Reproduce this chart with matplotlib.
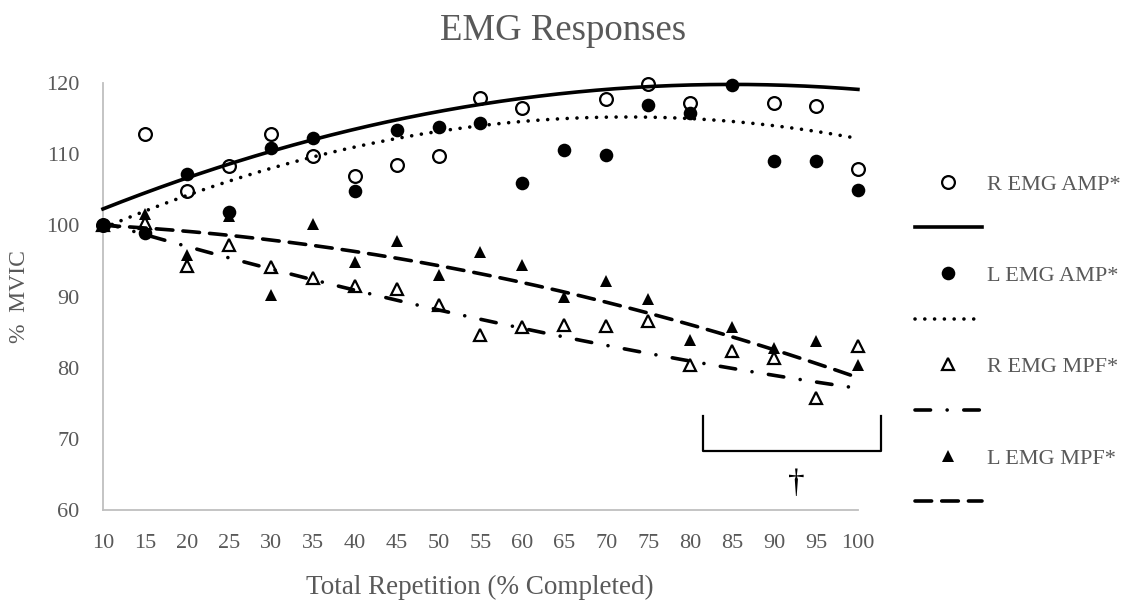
import matplotlib
matplotlib.use("Agg")
import matplotlib.pyplot as plt
import numpy as np
from matplotlib.lines import Line2D

nan = float('nan')

# % completed (categories on the x axis)
reps = [10, 15, 20, 25, 30, 35, 40, 45, 50, 55, 60, 65, 70, 75, 80, 85, 90, 95, 100]

# % MVIC (nan = marker not visible)
r_amp = [100, 112.8, 104.8, 108.3, 112.8, 109.7, 107.0, 108.5, 109.7, 117.9,
         116.5, nan, 117.7, 119.8, 117.2, nan, 117.2, 116.7, 107.9]
l_amp = [100, 98.9, 107.2, 101.9, 110.8, 112.3, 104.8, 113.4, 113.8, 114.4,
         106.0, 110.6, 109.9, 116.9, 115.8, 119.7, 109.1, 109.1, 104.9]
r_mpf = [100, 100.3, 94.3, 97.3, 94.1, 92.6, 91.5, 91.0, 88.8, 84.6,
         85.7, 86.0, 85.8, 86.5, 80.4, 82.4, 81.4, 75.7, 83.0]
l_mpf = [100, 101.6, 95.8, 101.3, 90.2, 100.2, 94.8, 97.8, 93.0, 96.3,
         94.4, 89.9, 92.2, 89.6, 83.9, 85.7, 82.8, 83.7, 80.4]

# 2nd order trendlines as drawn in the figure, read at 10, 55 and 100 %
trend_x = [10, 55, 100]
r_amp_trend = [102.3, 117.0, 119.1]
l_amp_trend = [99.6, 114.0, 112.2]
r_mpf_trend = [100.4, 86.8, 77.1]
l_mpf_trend = [100.0, 93.2, 78.6]

labels = ['R EMG AMP*', 'L EMG AMP*', 'R EMG MPF*', 'L EMG MPF*']

GREY = '#595959'
AXIS = '#BFBFBF'

plt.rcParams['font.family'] = 'Liberation Serif'

fig = plt.figure(figsize=(11.29, 6.01), dpi=100)
ax = fig.add_axes([0.0912, 0.1514, 0.6687, 0.7105])

x = np.array(reps, dtype=float)
xs = np.linspace(x[0], x[-1], 200)

trend_styles = [
    dict(ls='-', lw=2.6),
    dict(ls=(0, (0.01, 2.7)), lw=2.6, dash_capstyle='round'),
    dict(ls=(0, (4.3, 4.6, 0.01, 4.6)), lw=2.6, dash_capstyle='round'),
    dict(ls=(0, (4.6, 2.8)), lw=2.6, dash_capstyle='round'),
]
series = [r_amp, l_amp, r_mpf, l_mpf]
trends = [r_amp_trend, l_amp_trend, r_mpf_trend, l_mpf_trend]

marker_styles = [
    dict(marker='o', mfc='white', mec='black', mew=1.6, ms=9.2),
    dict(marker='o', mfc='black', mec='black', mew=0, ms=9.8),
    dict(marker='^', mfc='white', mec='black', mew=1.6, ms=8.6),
    dict(marker='^', mfc='black', mec='black', mew=0, ms=8.8),
]

for vals, ms in zip(series, marker_styles):
    ax.plot(x, vals, ls='none', clip_on=False, zorder=3, **ms)

for tv, st in zip(trends, trend_styles):
    coef = np.polyfit(trend_x, tv, 2)
    ax.plot(xs, np.polyval(coef, xs), color='black', zorder=4, clip_on=False, **st)

ax.set_xlim(10, 100)
ax.set_ylim(60, 120)
ax.set_xticks(reps)
ax.set_yticks(np.arange(60, 121, 10))
ax.tick_params(length=0, pad=17, labelsize=16, labelcolor=GREY)
for s in ['top', 'right']:
    ax.spines[s].set_visible(False)
for s in ['left', 'bottom']:
    ax.spines[s].set_color(AXIS)
    ax.spines[s].set_linewidth(1.3)

# significance bracket and dagger
bx = [81.5, 81.5, 102.7, 102.7]
by = [73.2, 68.3, 68.3, 73.2]
ax.plot(bx, by, color='black', lw=1.6, clip_on=False, zorder=2)
ax.text(92.6, 63.7, '\u2020', ha='center', va='center', fontsize=24, color='black')

fig.text(563 / 1129, 1 - 40 / 601, 'EMG Responses', ha='center', va='baseline',
         fontsize=26.5, color=GREY)
fig.text(480 / 1129, 1 - 594 / 601, 'Total Repetition (% Completed)', ha='center',
         va='baseline', fontsize=19.5, color=GREY)
fig.text(20 / 1129, 0.5067, '%  MVIC', rotation=90, ha='center', va='center',
         fontsize=17, color=GREY)

# legend: marker rows followed by their trendline rows
handles, texts = [], []
for lab, ms, st in zip(labels, marker_styles, trend_styles):
    handles.append(Line2D([], [], ls='none', **ms))
    texts.append(lab)
    handles.append(Line2D([], [], color='black', **st))
    texts.append(' ')
leg = fig.legend(handles, texts, loc='upper left', bbox_to_anchor=(915 / 1129, 1 - 174 / 601),
                 frameon=False, fontsize=16, handlelength=3.0, handletextpad=0.25,
                 labelspacing=1.13, borderpad=0, borderaxespad=0)
for t in leg.get_texts():
    t.set_color(GREY)

fig.savefig('out.png', dpi=100)
